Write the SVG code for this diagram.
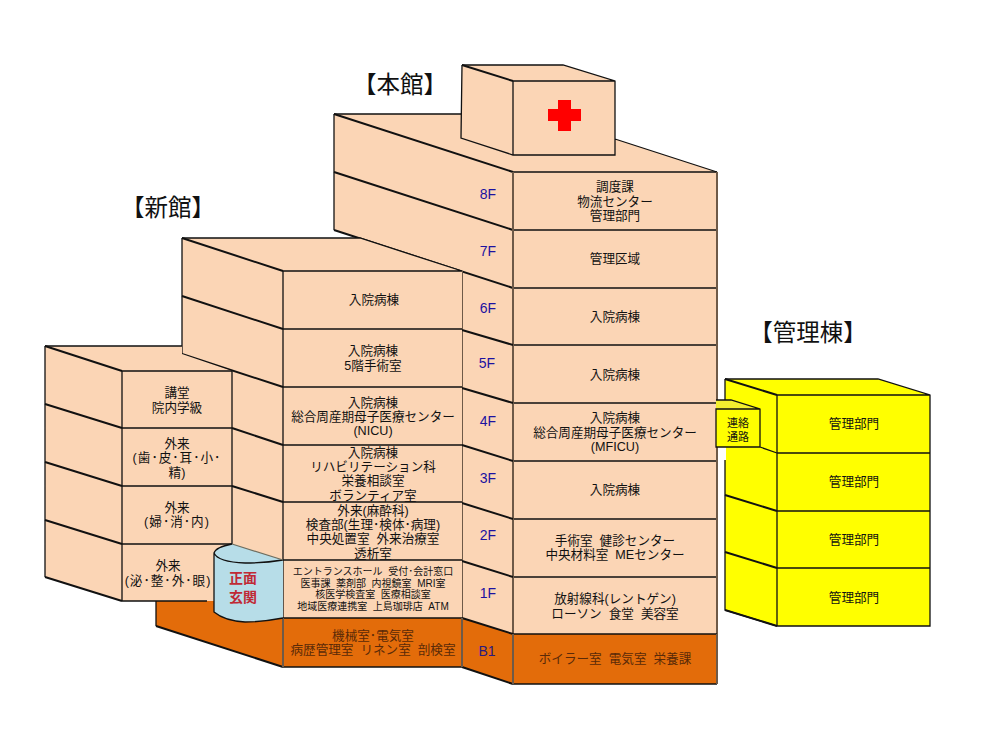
<svg xmlns="http://www.w3.org/2000/svg" width="999" height="741" viewBox="0 0 999 741">
<style>
text{font-family:"Liberation Sans","Noto Sans CJK JP",sans-serif;fill:#111;text-anchor:middle;font-size:12.6px}
.w{fill:#fbd5b5;stroke:none}
.o{fill:#e36c0a;stroke:none}
.y{fill:#ffff00;stroke:none}
.k{fill:none;stroke:#111;stroke-width:1.3}
.h{fill:none;stroke:#111;stroke-width:2}
.b{fill:none;stroke:#6e5a48;stroke-width:2}
.t{font-size:23.5px}
.f{font-family:"Liberation Sans",sans-serif;font-size:14px;fill:#1c12a0}
.s{font-size:10px}
.d{fill:#5a2a08}
.m{font-size:11px}
.n{letter-spacing:1px}
</style>
<rect width="999" height="741" fill="#fff"/>
<g id="honkan">
<polygon class="w" points="334,114 538,114 717,172 717,634 513,634 462,618 462,271 334,230"/>
<polygon class="w" points="462,65 563,65 615,81 615,155 513,155 461,138"/>
<path class="k" d="M334,114H461M615,139L717,172M462,65L461,138L513,155H615V81L563,65H462M513,81H615M513,81V155"/>
<path class="h" d="M462,65L513,81M334,114L513,172M334,172L513,230M334,230L513,288"/>
<path class="k" d="M334,114V230"/>
<path d="M558,100H571V109H581V121H571V131H558V121H548V109H558Z" fill="#f00"/>
<path class="k" d="M513,172H717M513,230H717M513,288H717M513,345H717M513,403H717M513,461H717M513,519H717M513,577H717"/>
<path class="b" d="M717,172V634M513,172V634M462,271V618"/>
<path class="h" d="M462,330L513,345M462,388L513,403M462,445L513,461M462,503L513,519M462,561L513,577"/>
<text x="615" y="191">調度課</text><text x="615" y="206">物流センター</text><text x="615" y="220">管理部門</text>
<text x="615" y="263">管理区域</text>
<text x="615" y="321">入院病棟</text>
<text x="615" y="379">入院病棟</text>
<text x="615" y="422">入院病棟</text><text x="615" y="437">総合周産期母子医療センター</text><text x="615" y="451">(MFICU)</text>
<text x="615" y="494">入院病棟</text>
<text x="615" y="545">手術室&#160;&#160;健診センター</text><text x="615" y="559">中央材料室&#160;&#160;MEセンター</text>
<text x="615" y="603">放射線科(レントゲン)</text><text x="615" y="618">ローソン&#160;&#160;食堂&#160;&#160;美容室</text>
</g>
<g id="floors">
<text class="f" x="488" y="199">8F</text><text class="f" x="488" y="256">7F</text><text class="f" x="488" y="313">6F</text><text class="f" x="487" y="368">5F</text><text class="f" x="488" y="426">4F</text><text class="f" x="488" y="483">3F</text><text class="f" x="488" y="540">2F</text><text class="f" x="488" y="598">1F</text>
</g>
<g id="shinkan">
<polygon class="w" points="182,238 360,238 462,271 462,618 283,618 232,601 232,371 182,354"/>
<path class="k" d="M182,238H360L462,271M182,238V354M283,271H462M283,329H462M283,387H462M283,445H462M283,502H462M283,560H462M283,271V618"/>
<path class="h" d="M182,238L283,271M182,296L283,329M182,354L283,387M232,428L283,445M232,486L283,502"/>
<text x="374" y="304">入院病棟</text>
<text x="373" y="355">入院病棟</text><text x="373" y="370">5階手術室</text>
<text x="373" y="407">入院病棟</text><text x="373" y="421">総合周産期母子医療センター</text><text x="373" y="435">(NICU)</text>
<text x="373" y="457">入院病棟</text><text x="373" y="471">リハビリテーション科</text><text x="373" y="485">栄養相談室</text><text x="373" y="500">ボランティア室</text>
<text x="373" y="515">外来(麻酔科)</text><text x="373" y="529">検査部(生理･検体･病理)</text><text x="373" y="543">中央処置室&#160;&#160;外来治療室</text><text x="373" y="558">透析室</text>
<text class="s" x="373" y="575">エントランスホール&#160;&#160;受付･会計窓口</text><text class="s" x="373" y="587">医事課&#160;&#160;薬剤部&#160;&#160;内視鏡室&#160;&#160;MRI室</text><text class="s" x="373" y="598">核医学検査室&#160;&#160;医療相談室</text><text class="s" x="373" y="610">地域医療連携室&#160;&#160;上島珈琲店&#160;&#160;ATM</text>
</g>
<g id="basement">
<polygon class="o" points="156,601 283,601 283,618 462,618 513,634 717,634 717,684 513,684 462,667 283,667 156,626"/>
<path class="k" d="M156,601V626M513,684H717M513,634H717M283,618H462M283,667H462"/>
<path class="h" d="M156,626L283,667M462,618L513,634M462,667L513,684"/>
<path class="b" d="M283,618V667M462,618V667M513,634V684M717,634V684"/>
<text class="d" x="373" y="640">機械室･電気室</text><text class="d" x="373" y="654">病歴管理室&#160;&#160;リネン室&#160;&#160;剖検室</text>
<text class="d" x="615" y="663">ボイラー室&#160;&#160;電気室&#160;&#160;栄養課</text>
<text class="f" x="487" y="656" style="fill:#2a1a80">B1</text>
</g>
<g id="front-left">
<polygon class="w" points="45,346 182,346 182,354 232,371 232,601 122,601 45,577"/>
<path class="k" d="M45,346H182M45,346V577M122,371H232M122,428H232M122,486H232M122,544H232M122,601H207M122,371V601M232,371V544"/>
<path class="h" d="M45,346L122,371M45,404L122,428M45,462L122,486M45,520L122,544M45,577L122,601"/>
<text x="177" y="397">講堂</text><text x="177" y="412">院内学級</text>
<text x="177" y="448">外来</text><text class="n" x="177" y="462">(歯･皮･耳･小･</text><text x="177" y="477">精)</text>
<text x="177" y="512">外来</text><text class="n" x="177" y="526">(婦･消･内)</text>
<text x="168" y="570">外来</text><text class="n" x="168" y="585">(泌･整･外･眼)</text>
</g>
<g id="entrance">
<path d="M232,544L283,560V618Q262,622 245,622Q225,621 214,612V553Q216,547 232,544Z" fill="#b7dde8"/>
<path class="k" d="M232,544Q216,547 214,553Q218,562 245,563Q265,563 283,560M214,553V612Q225,621 245,622Q262,622 283,618"/>
<path d="M232,544L283,560" fill="none" stroke="#6e6e60" stroke-width="1.2"/>
<text x="243" y="583" style="font-size:14px;fill:#c02a35;font-weight:700">正面</text>
<text x="243" y="602" style="font-size:14px;fill:#c02a35;font-weight:700">玄関</text>
</g>
<g id="kanri">
<polygon class="y" points="725,379 878,379 930,395 930,626 777,626 725,610"/>
<path class="k" d="M725,379H878L930,395V626H777L725,610V460M777,395H930M777,453H930M777,511H930M777,568H930M777,395V626M725,379V400"/>
<path class="h" d="M725,379L777,395M725,495L777,511M725,552L777,568M725,610L777,626"/>
<text x="854" y="428">管理部門</text><text x="854" y="486">管理部門</text><text x="854" y="544">管理部門</text><text x="854" y="602">管理部門</text>
</g>
<g id="link">
<polygon class="y" points="716,400 731,400 760,409 760,447 716,447"/>
<polygon points="716,400 731,400 760,409 716,409" fill="#f2ee30"/>
<path d="M725,447V460" stroke="#fff" stroke-width="2"/>
<path class="k" d="M716,400H731L760,409V447H716V409H760M760,447L777,453"/>
<text class="m" x="738" y="427">連絡</text><text class="m" x="738" y="441">通路</text>
</g>
<g id="titles">
<text class="t" x="400" y="93">【本館】</text>
<text class="t" x="168" y="216">【新館】</text>
<text class="t" x="808" y="341">【管理棟】</text>
</g>
</svg>
